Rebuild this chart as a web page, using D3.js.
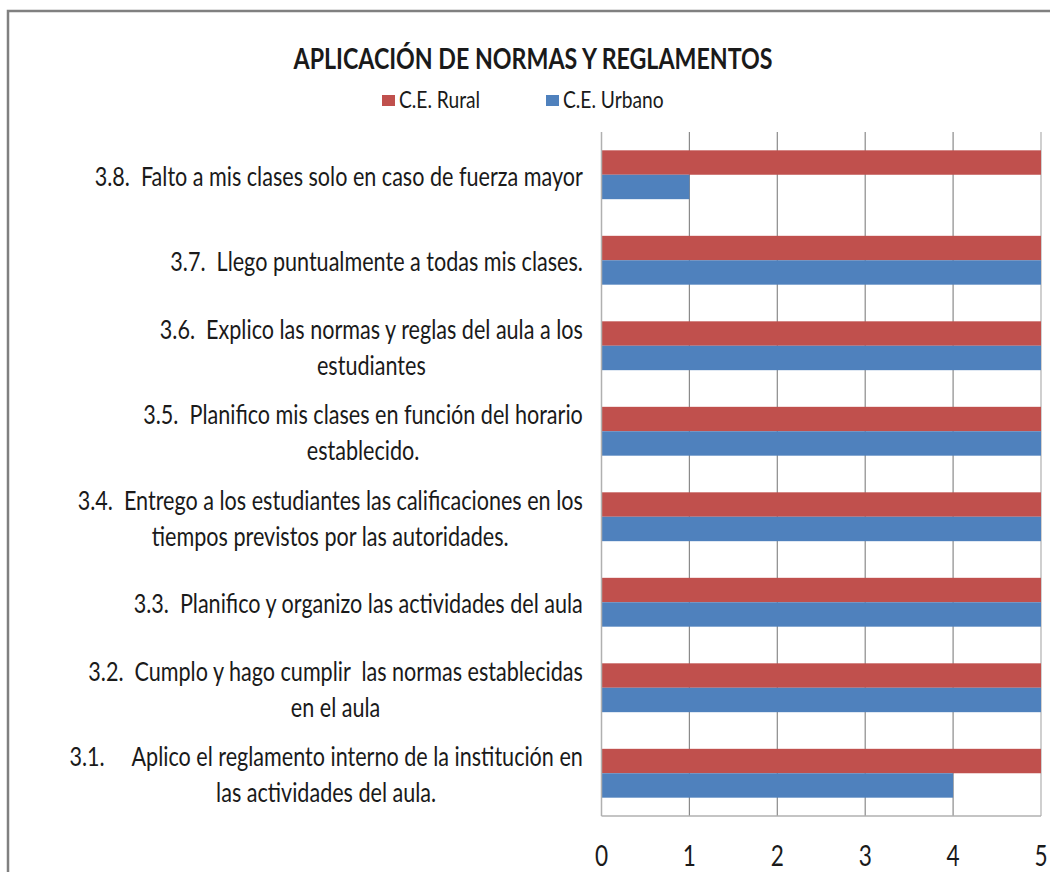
<!DOCTYPE html>
<html>
<head>
<meta charset="utf-8">
<script src="https://cdn.jsdelivr.net/npm/d3@7/dist/d3.min.js"></script>
<style>
  html, body { margin: 0; padding: 0; background: #fff; }
  svg { display: block; }
  text { font-family: Lato, "Open Sans", sans-serif; fill: #1a1a1a; white-space: pre; }
</style>
</head>
<body>
<div id="chart"></div>
<script>
(function drawChart() {
    const title = "APLICACIÓN DE NORMAS Y REGLAMENTOS";
    const categories = [
        ["3.8.  Falto a mis clases solo en caso de fuerza mayor"],
        ["3.7.  Llego puntualmente a todas mis clases."],
        ["3.6.  Explico las normas y reglas del aula a los", "estudiantes"],
        ["3.5.  Planifico mis clases en función del horario", "establecido."],
        ["3.4.  Entrego a los estudiantes las calificaciones en los", "tiempos previstos por las autoridades."],
        ["3.3.  Planifico y organizo las actividades del aula"],
        ["3.2.  Cumplo y hago cumplir  las normas establecidas", "en el aula"],
        ["3.1.     Aplico el reglamento interno de la institución en", "las actividades del aula."]
    ];
    const seriesNames = ["C.E. Rural", "C.E. Urbano"];
    const ruralValues = [5, 5, 5, 5, 5, 5, 5, 5];
    const urbanoValues = [1, 5, 5, 5, 5, 5, 5, 4];
    const tickValues = [0, 1, 2, 3, 4, 5];
    const colors = ["#C0504D", "#4F81BD"];

    const width = 1050;
    const height = 872;
    const plot = { left: 601.5, right: 1041, top: 132, bottom: 816 };
    const sx = 0.83; // squeezed text, like the original picture

    const svg = d3.select("#chart").append("svg")
        .attr("width", width)
        .attr("height", height);

    // outer chart frame (right/bottom run off the picture)
    svg.append("rect")
        .attr("x", 8).attr("y", 11)
        .attr("width", 1100).attr("height", 1000)
        .attr("fill", "none")
        .attr("stroke", "#808080")
        .attr("stroke-width", 2.5);

    const keys = categories.map((c, i) => "c" + i);
    const rows = keys.map((k, i) => ({ key: k, lines: categories[i], values: [ruralValues[i], urbanoValues[i]] }));

    const x = d3.scaleLinear().domain([0, 5]).range([plot.left, plot.right]);
    const y = d3.scaleBand().domain(keys).range([plot.top, plot.bottom]).padding(0);
    const ySub = d3.scaleBand().domain(seriesNames).range([0, y.bandwidth()]).paddingInner(0).paddingOuter(0.75);

    // gridlines
    svg.append("g").selectAll("line")
        .data(tickValues.filter(t => t > 0))
        .enter().append("line")
        .attr("x1", d => x(d)).attr("x2", d => x(d))
        .attr("y1", plot.top).attr("y2", plot.bottom)
        .attr("stroke", d => d === 5 ? "#b0b0b0" : "#8a8a8a")
        .attr("stroke-width", 1.2);

    // bars
    const rowG = svg.append("g").selectAll("g.row")
        .data(rows)
        .enter().append("g")
        .attr("class", "row")
        .attr("transform", d => `translate(0,${y(d.key)})`);

    rowG.selectAll("rect")
        .data(d => d.values.map((v, i) => ({ name: seriesNames[i], v, color: colors[i] })))
        .enter().append("rect")
        .attr("x", x(0))
        .attr("y", d => ySub(d.name))
        .attr("width", d => x(d.v) - x(0))
        .attr("height", ySub.bandwidth())
        .attr("fill", d => d.color);

    // axis lines
    svg.append("line")
        .attr("x1", plot.left).attr("x2", plot.left)
        .attr("y1", plot.top).attr("y2", plot.bottom)
        .attr("stroke", "#b0b0b0").attr("stroke-width", 1.5);
    svg.append("line")
        .attr("x1", plot.left).attr("x2", plot.right)
        .attr("y1", plot.bottom).attr("y2", plot.bottom)
        .attr("stroke", "#b0b0b0").attr("stroke-width", 1.5);

    // tick labels
    svg.append("g").selectAll("text")
        .data(tickValues)
        .enter().append("text")
        .attr("transform", d => `translate(${x(d)},866) scale(0.78,1)`)
        .attr("text-anchor", "middle")
        .attr("font-size", 29)
        .text(d => d);

    // category labels: lines centred in a block that is right aligned to the plot
    const labelRight = 583;
    const lineH = 36;
    rows.forEach(r => {
        const g = svg.append("g");
        const texts = g.selectAll("text")
            .data(r.lines)
            .enter().append("text")
            .attr("font-size", 26)
            .attr("text-anchor", "middle")
            .attr("dy", "0.35em")
            .text(d => d);
        let maxW = 0;
        texts.each(function () { maxW = Math.max(maxW, this.getComputedTextLength()); });
        const cx = labelRight - maxW * sx / 2;
        const cy = y(r.key) + y.bandwidth() / 2 + 2;
        const n = r.lines.length;
        texts.attr("transform", (d, i) => `translate(${cx},${cy + (i - (n - 1) / 2) * lineH}) scale(${sx},1)`);
    });

    // title
    svg.append("text")
        .attr("transform", "translate(533,69) scale(0.8,1)")
        .attr("text-anchor", "middle")
        .attr("font-size", 29)
        .attr("font-weight", 700)
        .attr("fill", "#111")
        .text(title);

    // legend
    const legendX = [382, 546];
    const leg = svg.append("g").selectAll("g")
        .data(seriesNames)
        .enter().append("g")
        .attr("transform", (d, i) => `translate(${legendX[i]},95)`);
    leg.append("rect")
        .attr("width", 13).attr("height", 11)
        .attr("fill", (d, i) => colors[i]);
    leg.append("text")
        .attr("transform", "translate(17,13) scale(0.8,1)")
        .attr("font-size", 24)
        .text(d => d);
}());
</script>
</body>
</html>
